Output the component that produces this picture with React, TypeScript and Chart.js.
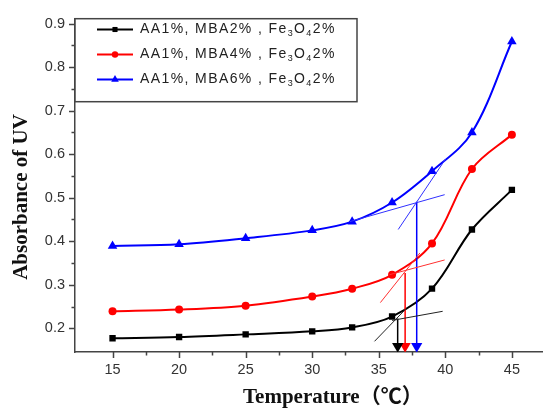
import { useEffect, useRef } from 'react';
import { Chart, registerables } from 'chart.js';

Chart.register(...registerables);

// ---- data ----
const temperatures = [15, 20, 25, 30, 33, 36, 39, 42, 45];
const absMBA2 = [0.177, 0.180, 0.186, 0.193, 0.202, 0.227, 0.291, 0.427, 0.518];
const absMBA4 = [0.239, 0.243, 0.252, 0.273, 0.291, 0.323, 0.395, 0.566, 0.645];
const absMBA6 = [0.389, 0.393, 0.407, 0.425, 0.445, 0.489, 0.561, 0.650, 0.859];
const seriesLabels = ['AA1%, MBA2% , Fe₃O₄2%', 'AA1%, MBA4% , Fe₃O₄2%', 'AA1%, MBA6% , Fe₃O₄2%'];
const seriesColors = ['#000000', '#ff0000', '#0000ff'];

const xTicks = [15, 20, 25, 30, 35, 40, 45];
const xMinorTicks = [17.5, 22.5, 27.5, 32.5, 37.5, 42.5];
const yTicks = [0.2, 0.3, 0.4, 0.5, 0.6, 0.7, 0.8, 0.9];
const yMinorTicks = [0.25, 0.35, 0.45, 0.55, 0.65, 0.75, 0.85];

// tangent lines (x: temperature, y: absorbance)
const tangentBlackSteepX = [34.68, 37.05];
const tangentBlackSteepY = [0.170, 0.245];
const tangentBlackFlatX = [36.0, 39.8];
const tangentBlackFlatY = [0.218, 0.239];
const tangentRedSteepX = [35.12, 38.09];
const tangentRedSteepY = [0.259, 0.373];
const tangentRedFlatX = [35.79, 39.95];
const tangentRedFlatY = [0.323, 0.357];
const tangentBlueSteepX = [36.46, 40.02];
const tangentBlueSteepY = [0.427, 0.589];
const tangentBlueFlatX = [32.82, 39.95];
const tangentBlueFlatY = [0.445, 0.507];

// onset arrows
const onsetTemps = [36.42, 36.98, 37.85];
const onsetAbs = [0.2227, 0.327, 0.491];
const arrowEndAbs = 0.159;

const X_MIN = 12.18;
const X_MAX = 47.3;
const Y_MIN = 0.1455;
const Y_MAX = 0.9114;

const pts = (xs: number[], ys: number[]) => xs.map((x, i) => ({ x, y: ys[i] }));

const markerStyles: any[] = [
  { style: 'rect', radius: 4.5 },
  { style: 'circle', radius: 4 },
  { style: 'triangle', radius: 5.5 },
];

function drawMarker(ctx: CanvasRenderingContext2D, i: number, x: number, y: number) {
  ctx.save();
  ctx.fillStyle = seriesColors[i];
  ctx.beginPath();
  const r = markerStyles[i].radius * 0.8;
  if (i === 0) {
    const s = r * Math.SQRT1_2;
    ctx.rect(x - s, y - s, 2 * s, 2 * s);
  } else if (i === 1) {
    ctx.arc(x, y, r, 0, Math.PI * 2);
  } else {
    ctx.moveTo(x, y - r);
    ctx.lineTo(x + r * Math.sin((2 * Math.PI) / 3), y - r * Math.cos((2 * Math.PI) / 3));
    ctx.lineTo(x + r * Math.sin((4 * Math.PI) / 3), y - r * Math.cos((4 * Math.PI) / 3));
    ctx.closePath();
  }
  ctx.fill();
  ctx.restore();
}

const subMap: Record<string, string> = { '₃': '3', '₄': '4' };

function drawLabel(ctx: CanvasRenderingContext2D, text: string, x: number, y: number) {
  const spacing = 1.4;
  let cx = x;
  for (const ch of text) {
    if (subMap[ch]) {
      ctx.font = '9px "Liberation Sans", Arial, sans-serif';
      ctx.fillText(subMap[ch], cx, y + 4);
      cx += ctx.measureText(subMap[ch]).width + spacing;
    } else {
      ctx.font = '14px "Liberation Sans", Arial, sans-serif';
      ctx.fillText(ch, cx, y);
      cx += ctx.measureText(ch).width + spacing;
    }
  }
}

const decorPlugin = {
  id: 'decor',
  afterDraw(chart: any) {
    const ctx: CanvasRenderingContext2D = chart.ctx;
    const xs = chart.scales.x;
    const ys = chart.scales.y;
    const area = chart.chartArea;
    ctx.save();
    // ticks
    ctx.strokeStyle = '#444';
    ctx.lineWidth = 1.5;
    ctx.beginPath();
    yTicks.forEach((v) => {
      const p = Math.round(ys.getPixelForValue(v)) + 0.5;
      ctx.moveTo(area.left, p);
      ctx.lineTo(area.left - 6, p);
    });
    yMinorTicks.forEach((v) => {
      const p = Math.round(ys.getPixelForValue(v)) + 0.5;
      ctx.moveTo(area.left, p);
      ctx.lineTo(area.left - 3.5, p);
    });
    xTicks.forEach((v) => {
      const p = Math.round(xs.getPixelForValue(v)) + 0.5;
      ctx.moveTo(p, area.bottom);
      ctx.lineTo(p, area.bottom + 6);
    });
    xMinorTicks.forEach((v) => {
      const p = Math.round(xs.getPixelForValue(v)) + 0.5;
      ctx.moveTo(p, area.bottom);
      ctx.lineTo(p, area.bottom + 3.5);
    });
    ctx.stroke();

    // legend box
    const bx = area.left;
    const by = area.top;
    ctx.fillStyle = '#ffffff';
    ctx.fillRect(bx, by, 282, 83);
    ctx.strokeStyle = '#444';
    ctx.lineWidth = 1.5;
    ctx.strokeRect(bx, by, 282, 83);
    const rowYs = [29.5, 54.5, 79.5];
    seriesLabels.forEach((lab, i) => {
      const ry = rowYs[i];
      ctx.strokeStyle = seriesColors[i];
      ctx.lineWidth = 2;
      ctx.beginPath();
      ctx.moveTo(97, ry);
      ctx.lineTo(133, ry);
      ctx.stroke();
      drawMarker(ctx, i, 115, ry);
      ctx.fillStyle = '#222';
      ctx.textBaseline = 'middle';
      ctx.textAlign = 'left';
      drawLabel(ctx, lab, 140, ry);
    });

    // axis titles
    ctx.fillStyle = '#111';
    ctx.textBaseline = 'alphabetic';
    ctx.textAlign = 'left';
    ctx.font = 'bold 21px "Liberation Serif", "Times New Roman", "Noto Sans CJK SC", serif';
    ctx.fillText('Temperature（℃）', 243, 403);
    ctx.save();
    ctx.translate(26.5, 197);
    ctx.rotate(-Math.PI / 2);
    ctx.textAlign = 'center';
    ctx.fillText('Absorbance of UV', 0, 0);
    ctx.restore();
    ctx.restore();
  },
};

export default function App() {
  const ref = useRef<HTMLCanvasElement | null>(null);
  useEffect(() => {
    if (!ref.current) return;
    const mainSets = [absMBA2, absMBA4, absMBA6].map((vals, i) => ({
      label: seriesLabels[i],
      data: pts(temperatures, vals),
      borderColor: seriesColors[i],
      backgroundColor: seriesColors[i],
      pointBackgroundColor: seriesColors[i],
      pointBorderColor: seriesColors[i],
      pointBorderWidth: 0,
      pointStyle: markerStyles[i].style,
      pointRadius: markerStyles[i].radius,
      borderWidth: 2,
      tension: 0.35,
      fill: false,
    }));
    const tangentColors = ['#222222', '#ff3030', '#3030ff'];
    const tangents = [
      [tangentBlackSteepX, tangentBlackSteepY, 0],
      [tangentBlackFlatX, tangentBlackFlatY, 0],
      [tangentRedSteepX, tangentRedSteepY, 1],
      [tangentRedFlatX, tangentRedFlatY, 1],
      [tangentBlueSteepX, tangentBlueSteepY, 2],
      [tangentBlueFlatX, tangentBlueFlatY, 2],
    ].map(([xs, ys, c]: any) => ({
      label: 'tangent',
      data: pts(xs, ys),
      borderColor: tangentColors[c],
      borderWidth: 1,
      pointRadius: 0,
      tension: 0,
      fill: false,
    }));
    const arrows = onsetTemps.map((t, i) => ({
      label: 'onset',
      data: [
        { x: t, y: onsetAbs[i] },
        { x: t, y: arrowEndAbs },
      ],
      borderColor: seriesColors[i],
      backgroundColor: seriesColors[i],
      pointBackgroundColor: seriesColors[i],
      pointBorderWidth: 0,
      borderWidth: 1.5,
      pointStyle: 'triangle',
      pointRotation: 180,
      pointRadius: [0, 6.5],
      tension: 0,
      fill: false,
    }));

    const chart = new Chart(ref.current, {
      type: 'line',
      data: { datasets: [...tangents, ...arrows, ...mainSets] as any },
      options: {
        animation: false,
        responsive: false,
        layout: { padding: { top: 15, right: 1, left: 0, bottom: 0 } },
        plugins: { legend: { display: false }, tooltip: { enabled: false } },
        scales: {
          x: {
            type: 'linear',
            min: X_MIN,
            max: X_MAX,
            afterFit: (s: any) => {
              s.height = 58;
            },
            afterBuildTicks: (s: any) => {
              s.ticks = xTicks.map((v) => ({ value: v }));
            },
            grid: { display: false, drawTicks: false },
            border: { display: true, color: '#444', width: 1.5 },
            ticks: {
              padding: 9,
              color: '#333',
              font: { family: '"Liberation Sans", Arial, sans-serif', size: 14.5 },
              maxRotation: 0,
              autoSkip: false,
              callback: (v: any) => String(v),
            },
          },
          y: {
            type: 'linear',
            min: Y_MIN,
            max: Y_MAX,
            afterFit: (s: any) => {
              s.width = 75;
            },
            afterBuildTicks: (s: any) => {
              s.ticks = yTicks.map((v) => ({ value: v }));
            },
            grid: { display: false, drawTicks: false },
            border: { display: true, color: '#444', width: 1.5 },
            ticks: {
              padding: 10,
              color: '#333',
              font: { family: '"Liberation Sans", Arial, sans-serif', size: 14.5 },
              autoSkip: false,
              callback: (v: any) => Number(v).toFixed(1),
            },
          },
        },
      },
      plugins: [decorPlugin],
    });
    return () => chart.destroy();
  }, []);

  return (
    <div style={{ position: 'fixed', left: 0, top: 0, width: 549, height: 410, background: '#fff' }}>
      <canvas ref={ref} width={549} height={410} style={{ display: 'block' }} />
    </div>
  );
}
